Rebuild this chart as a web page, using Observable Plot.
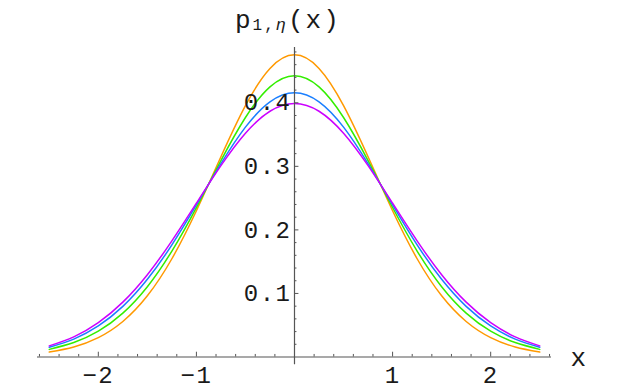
<!DOCTYPE html>
<html>
<head>
<meta charset="utf-8">
<script src="https://cdn.jsdelivr.net/npm/d3@7"></script>
<script src="https://cdn.jsdelivr.net/npm/@observablehq/plot@0.6"></script>
<style>
  html, body { margin: 0; padding: 0; background: white; }
</style>
</head>
<body>
<div id="chart"></div>
<script>
// x sample positions
const xs = [-2.5, -2.25, -2, -1.75, -1.5, -1.25, -1, -0.75, -0.5, -0.25, 0,
            0.25, 0.5, 0.75, 1, 1.25, 1.5, 1.75, 2, 2.25, 2.5];

// curve values (orange, green, blue, purple)
const orangeVals = [0.0078, 0.0158, 0.0305, 0.0559, 0.0963, 0.1546, 0.2301, 0.3151, 0.3956, 0.4540, 0.4754,
                    0.4540, 0.3956, 0.3151, 0.2301, 0.1546, 0.0963, 0.0559, 0.0305, 0.0158, 0.0078];
const greenVals  = [0.0120, 0.0227, 0.0406, 0.0690, 0.1106, 0.1667, 0.2352, 0.3091, 0.3769, 0.4250, 0.4425,
                    0.4250, 0.3769, 0.3091, 0.2352, 0.1667, 0.1106, 0.0690, 0.0406, 0.0227, 0.0120];
const blueVals   = [0.0154, 0.0282, 0.0488, 0.0796, 0.1222, 0.1765, 0.2394, 0.3042, 0.3617, 0.4015, 0.4158,
                    0.4015, 0.3617, 0.3042, 0.2394, 0.1765, 0.1222, 0.0796, 0.0488, 0.0282, 0.0154];
const purpleVals = [0.0175, 0.0317, 0.0540, 0.0863, 0.1295, 0.1827, 0.2420, 0.3011, 0.3521, 0.3867, 0.3989,
                    0.3867, 0.3521, 0.3011, 0.2420, 0.1827, 0.1295, 0.0863, 0.0540, 0.0317, 0.0175];

const seriesNames = ["curve A", "curve B", "curve C", "curve D"];
const seriesColors = ["#FF9900", "#33EE00", "#1A7FFF", "#CC00FF"];

// ticks
const xMajorTicks = [-2, -1, 1, 2];
const xTickLabels = ["\u22122", "\u22121", "1", "2"];
const xMinorTicks = [-2.6, -2.4, -2.2, -1.8, -1.6, -1.4, -1.2, -0.8, -0.6, -0.4, -0.2,
                     0.2, 0.4, 0.6, 0.8, 1.2, 1.4, 1.6, 1.8, 2.2, 2.4, 2.6];
const yMajorTicks = [0.1, 0.2, 0.3, 0.4];
const yTickLabels = ["0.1", "0.2", "0.3", "0.4"];
const yMinorTicks = [0.02, 0.04, 0.06, 0.08, 0.12, 0.14, 0.16, 0.18, 0.22, 0.24, 0.26, 0.28,
                     0.32, 0.34, 0.36, 0.38, 0.42, 0.44, 0.46, 0.48];

const xAxisLabel = "x";

// build long table
const valuesBySeries = [orangeVals, greenVals, blueVals, purpleVals];
const table = [];
seriesNames.forEach((s, si) => {
  xs.forEach((x, i) => table.push({series: s, x, y: valuesBySeries[si][i]}));
});

const xDomain = [-2.62, 2.62];
const yDomain = [0, 0.487];
const axisColor = "#555";
const textColor = "#1a1a1a";

const plot = Plot.plot({
  width: 629,
  height: 389,
  marginLeft: 37,
  marginRight: 78,
  marginTop: 47,
  marginBottom: 32.5,
  x: {domain: xDomain, axis: null},
  y: {domain: yDomain, axis: null},
  color: {domain: seriesNames, range: seriesColors},
  style: {background: "white", fontFamily: "'Liberation Mono', 'DejaVu Sans Mono', monospace", letterSpacing: "1.5px"},
  marks: [
    // curves
    Plot.line(table, {x: "x", y: "y", z: "series", stroke: "series", strokeWidth: 1.5, curve: "natural"}),
    // axes lines
    Plot.ruleY([0], {x1: xDomain[0], x2: xDomain[1], stroke: axisColor, strokeWidth: 1.2}),
    Plot.ruleX([0], {y1: -0.012, y2: yDomain[1], stroke: axisColor, strokeWidth: 1.2}),
    // x ticks (pointing up)
    Plot.ruleX(xMajorTicks, {y1: 0, y2: 0.0075, stroke: axisColor, strokeWidth: 1}),
    Plot.ruleX(xMinorTicks, {y1: 0, y2: 0.004, stroke: axisColor, strokeWidth: 1}),
    // y ticks (pointing right)
    Plot.ruleY(yMajorTicks, {x1: 0, x2: 0.045, stroke: axisColor, strokeWidth: 1}),
    Plot.ruleY(yMinorTicks, {x1: 0, x2: 0.025, stroke: axisColor, strokeWidth: 1}),
    // tick labels
    Plot.text(xMajorTicks, {x: d => d, y: 0, text: (d, i) => xTickLabels[i], dy: 18, fontSize: 24, fill: textColor}),
    Plot.text(yMajorTicks, {x: 0, y: d => d, text: (d, i) => yTickLabels[i], dx: -3, textAnchor: "end", fontSize: 24, fill: textColor}),
    // axis label
    Plot.text([xAxisLabel], {x: 2.9, y: 0, text: d => d, dy: 1, fontSize: 26, fill: textColor})
  ]
});

// title p_{1,η}(x) above the y axis
const svg = d3.select(plot);
const t = svg.append("text")
  .attr("x", 235)
  .attr("y", 28)
  .attr("text-anchor", "start")
  .attr("font-family", "'Liberation Mono', monospace")
  .attr("font-size", 26)
  .attr("fill", textColor)
  .attr("letter-spacing", "2px");
t.append("tspan").text("p");
t.append("tspan").attr("font-size", 16).attr("dy", 2).text("1,");
t.append("tspan").attr("font-size", 17).attr("font-style", "italic").text("\u03b7");
t.append("tspan").attr("dy", -2).text("(x)");

document.getElementById("chart").appendChild(plot);
</script>
</body>
</html>
